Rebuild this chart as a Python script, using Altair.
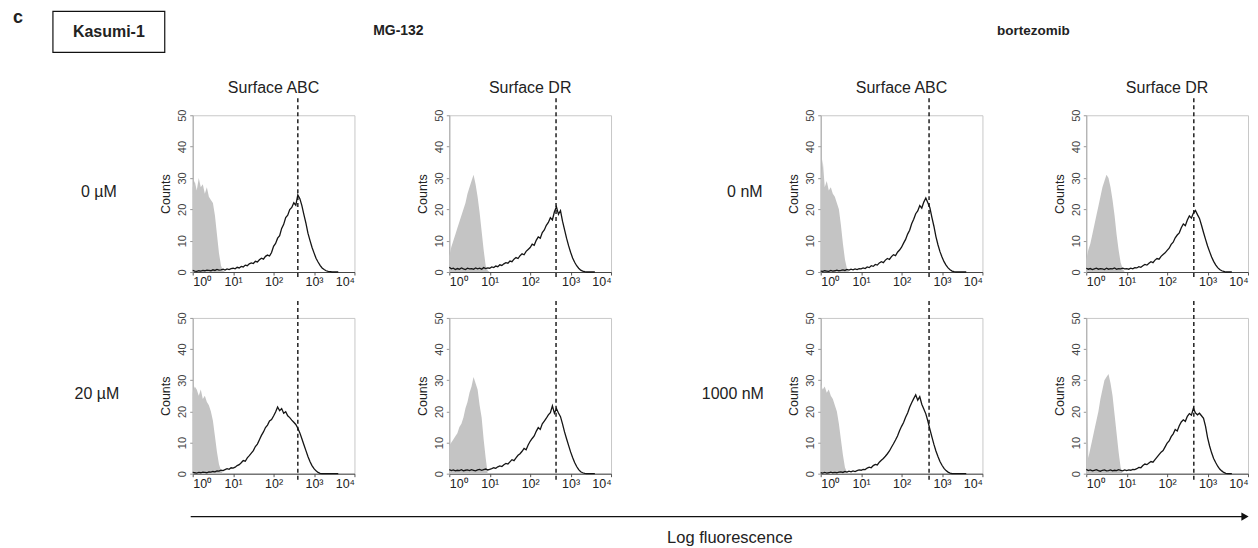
import altair as alt
import pandas as pd

# ---------------- data ----------------
# stained (black outline) histograms: bins of log10 fluorescence, 0.00 .. 3.60, step 0.05
BIN_STEP = 0.05
mg_abc_0 = [0.5, 0.3, 0.2, 0.4, 0.3, 0.5, 0.4, 0.6, 0.5, 0.4, 0.7, 0.5, 0.8, 0.6, 0.7, 0.9, 0.6, 1.0, 0.8, 1.1,
            1.2, 1.0, 1.5, 1.3, 1.8, 1.6, 2.2, 2.0, 2.6, 2.9, 2.7, 3.4, 3.2, 3.9, 4.4, 4.1, 5.0, 5.4, 5.1, 6.2,
            8.2, 9.1, 10.8, 11.6, 13.9, 15.2, 17.4, 18.1, 19.9, 20.6, 22.1, 21.3, 24.6, 23.4, 21.2, 18.3, 15.6, 12.4, 10.1, 7.9,
            6.1, 4.4, 3.2, 2.1, 1.3, 0.8, 0.4, 0.2, 0.1, 0, 0, 0, 0]
mg_dr_0 = [1.5, 1.0, 1.2, 0.8, 1.1, 0.9, 1.3, 1.0, 0.8, 1.2, 1.0, 1.1, 0.9, 1.3, 1.0, 1.2, 0.9, 1.4, 1.1, 1.3,
           1.2, 1.6, 1.4, 1.9, 1.7, 2.3, 2.1, 2.6, 3.0, 2.8, 3.5, 3.3, 4.1, 4.6, 4.3, 5.2, 5.8, 5.5, 6.6, 7.2,
           7.8, 8.9, 8.5, 10.1, 11.2, 10.8, 12.6, 13.4, 14.9, 15.8, 17.3, 16.6, 19.2, 20.8, 18.4, 19.6, 16.2, 13.5, 10.8, 8.4,
           6.3, 4.5, 3.1, 2.0, 1.2, 0.6, 0.3, 0.1, 0, 0, 0, 0, 0]
bz_abc_0 = [0.3, 0.2, 0.4, 0.3, 0.2, 0.5, 0.3, 0.4, 0.6, 0.4, 0.5, 0.7, 0.5, 0.8, 0.6, 0.9, 0.7, 1.0, 0.8, 1.1,
            1.0, 1.3, 1.1, 1.6, 1.4, 2.0, 1.8, 2.4, 2.2, 2.9, 3.3, 3.0, 3.8, 4.3, 4.0, 4.9, 5.5, 5.2, 6.3, 7.0,
            7.9, 9.2, 10.4, 12.1, 13.3, 15.4, 16.8, 18.6, 19.5, 21.2, 20.4, 22.3, 23.6, 22.1, 20.5, 17.4, 14.6, 11.3, 8.7, 6.5,
            4.8, 3.3, 2.2, 1.3, 0.7, 0.3, 0.1, 0, 0, 0, 0, 0, 0]
bz_dr_0 = [1.2, 0.9, 1.1, 0.8, 1.0, 1.2, 0.9, 1.1, 1.0, 0.8, 1.2, 0.9, 1.1, 1.0, 1.3, 0.9, 1.1, 1.0, 1.2, 1.0,
           1.1, 0.9, 1.2, 1.0, 1.4, 1.3, 1.7, 1.5, 2.0, 2.4, 2.2, 2.8, 3.3, 3.0, 3.8, 4.3, 4.1, 5.0, 5.6, 6.1,
           6.9, 7.6, 8.8, 9.5, 10.9, 11.8, 12.5, 14.1, 15.3, 14.8, 16.6, 17.9, 17.2, 18.8, 19.6, 18.3, 17.1, 14.9, 12.6, 10.4,
           8.3, 6.5, 4.8, 3.4, 2.3, 1.4, 0.8, 0.4, 0.2, 0, 0, 0, 0]
mg_abc_20 = [0.4, 0.3, 0.2, 0.4, 0.3, 0.5, 0.4, 0.3, 0.6, 0.5, 0.7, 0.6, 0.9, 0.8, 1.1, 1.0, 1.3, 1.6, 1.4, 1.9,
             1.8, 2.1, 2.6, 2.9, 3.5, 4.2, 4.0, 5.1, 5.8, 6.6, 7.4, 8.7, 9.5, 10.9, 12.3, 13.4, 14.8, 15.6, 16.9, 17.4,
             18.5, 19.8, 21.4, 20.2, 20.9, 19.4, 19.9, 18.6, 18.0, 17.2, 16.5, 15.8, 14.6, 13.1, 11.2, 9.3, 7.4, 5.5, 3.9, 2.6,
             1.6, 0.9, 0.4, 0.1, 0, 0, 0, 0, 0, 0, 0, 0, 0]
mg_dr_20 = [1.3, 1.0, 1.2, 0.9, 1.1, 1.0, 1.3, 0.9, 1.1, 1.2, 1.0, 1.3, 1.1, 0.9, 1.2, 1.4, 1.1, 1.3, 1.5, 1.2,
            1.4, 1.6, 1.9, 1.7, 2.2, 2.5, 2.3, 2.9, 3.3, 3.1, 3.8, 4.5, 4.2, 5.1, 5.9, 6.4, 7.2, 8.1, 7.7, 9.2,
            10.4, 11.3, 12.1, 13.6, 14.8, 14.2, 16.0, 16.9, 17.8, 18.9, 19.6, 21.8, 19.4, 20.9, 19.5, 18.3, 16.0, 13.4, 11.2, 9.1,
            7.0, 5.2, 3.6, 2.3, 1.3, 0.6, 0.3, 0.1, 0, 0, 0, 0, 0]
bz_abc_1000 = [0.3, 0.2, 0.4, 0.2, 0.3, 0.5, 0.3, 0.4, 0.3, 0.5, 0.6, 0.4, 0.7, 0.5, 0.8, 0.6, 0.9, 0.7, 1.0, 1.2,
               1.1, 1.4, 1.3, 1.8, 2.1, 1.9, 2.6, 3.0, 2.8, 3.7, 4.3, 4.9, 5.6, 6.4, 7.3, 8.5, 9.6, 10.8, 12.1, 13.8,
               15.2, 16.4, 18.1, 19.5, 21.3, 22.8, 24.1, 25.3, 23.6, 24.7, 22.3, 20.8, 19.2, 16.9, 14.3, 11.8, 9.4, 7.3, 5.5, 3.9,
               2.7, 1.7, 1.0, 0.5, 0.2, 0, 0, 0, 0, 0, 0, 0, 0]
bz_dr_1000 = [1.4, 1.0, 1.2, 0.9, 1.1, 1.3, 1.0, 0.8, 1.1, 1.2, 0.9, 1.0, 1.2, 0.9, 1.1, 1.0, 1.3, 1.1, 0.9, 1.2,
              1.0, 1.2, 1.1, 1.4, 1.3, 1.6, 2.0, 1.9, 2.6, 3.1, 2.9, 3.4, 3.9, 3.7, 4.5, 5.3, 6.1, 6.9, 7.4, 8.6,
              9.8, 10.5, 11.9, 12.8, 14.2, 13.7, 15.4, 16.6, 17.3, 16.8, 18.4, 19.3, 18.8, 21.0, 19.5, 18.9, 19.4, 18.6, 17.8, 15.2,
              11.6, 8.9, 6.7, 4.9, 3.6, 2.4, 1.5, 0.9, 0.4, 0.1, 0, 0, 0]

# isotype control (grey filled) histograms: bins 0.00 .. 1.00, step 0.05
iso_mg_abc_0 = [27, 29, 26, 30, 27, 28, 25, 27, 24, 23, 22, 18, 12, 6, 2, 0.5, 0, 0, 0, 0, 0]
iso_mg_dr_0 = [5, 8, 10, 12, 14, 16, 18, 20, 22, 25, 27, 29, 31, 28, 24, 19, 13, 7, 2, 0.5, 0]
iso_bz_abc_0 = [28, 36, 27, 29, 26, 27, 25, 24, 22, 20, 15, 9, 4, 1, 0, 0, 0, 0, 0, 0, 0]
iso_bz_dr_0 = [4, 7, 9, 12, 15, 18, 21, 24, 27, 29, 31, 30, 27, 23, 18, 12, 7, 3, 1, 0, 0]
iso_mg_abc_20 = [26, 28, 27, 25, 27, 24, 25, 23, 22, 20, 17, 12, 7, 3, 1, 0, 0, 0, 0, 0, 0]
iso_mg_dr_20 = [9, 10, 11, 12, 13, 15, 16, 18, 21, 23, 26, 28, 31, 29, 27, 22, 18, 11, 5, 0, 0]
iso_bz_abc_1000 = [29, 27, 28, 26, 27, 25, 24, 22, 20, 16, 11, 6, 2, 0.5, 0, 0, 0, 0, 0, 0, 0]
iso_bz_dr_1000 = [43, 5, 8, 11, 14, 17, 20, 24, 27, 30, 31, 32, 29, 25, 19, 13, 7, 2, 0, 0, 0]

# dashed reference line (log10 fluorescence) per panel
dashed = {"mg_abc_0": 2.60, "mg_dr_0": 2.64, "bz_abc_0": 2.68, "bz_dr_0": 2.66,
          "mg_abc_20": 2.60, "mg_dr_20": 2.64, "bz_abc_1000": 2.68, "bz_dr_1000": 2.66}

stained = {"mg_abc_0": mg_abc_0, "mg_dr_0": mg_dr_0, "bz_abc_0": bz_abc_0, "bz_dr_0": bz_dr_0,
           "mg_abc_20": mg_abc_20, "mg_dr_20": mg_dr_20, "bz_abc_1000": bz_abc_1000, "bz_dr_1000": bz_dr_1000}
isotype = {"mg_abc_0": iso_mg_abc_0, "mg_dr_0": iso_mg_dr_0, "bz_abc_0": iso_bz_abc_0, "bz_dr_0": iso_bz_dr_0,
           "mg_abc_20": iso_mg_abc_20, "mg_dr_20": iso_mg_dr_20, "bz_abc_1000": iso_bz_abc_1000,
           "bz_dr_1000": iso_bz_dr_1000}

x_ticks = [0, 1, 2, 3, 4]
y_ticks = [0, 10, 20, 30, 40, 50]

# ---------------- layout constants ----------------
FONT = "Liberation Sans"
TXT = "#222222"
PW, PH1, PH2 = 162, 157, 156
COLW = [184, PW, 95, PW, 210, PW, 104, PW]
ROWH = [106, PH1, 46, PH2, 67]
LBL = 16  # size of the row / column labels


def hist_df(values):
    return pd.DataFrame({"x": [round(i * BIN_STEP, 2) for i in range(len(values))], "count": values})


xaxis = alt.Axis(values=x_ticks, labelExpr="'10' + ['⁰','¹','²','³','⁴'][datum.value]",
                 title=None, grid=False, tickSize=3, tickColor="#555555", domainColor="#444444",
                 labelFontSize=12.5, labelColor=TXT, labelPadding=1, labelFont=FONT)
yaxis = alt.Axis(values=y_ticks, title="Counts", grid=False, tickSize=3, tickColor="#999999",
                 domainColor="#aaaaaa", labelAngle=270, labelAlign="center", labelBaseline="bottom",
                 labelFontSize=11, labelColor="#444444", labelPadding=2, labelFont=FONT,
                 titleFontSize=12.5, titleFontWeight="normal", titleColor=TXT, titlePadding=4, titleFont=FONT)


def panel(key, h):
    X = alt.X("x:Q", scale=alt.Scale(domain=[0, 4], nice=False, zero=False), axis=xaxis)
    Y = alt.Y("count:Q", scale=alt.Scale(domain=[0, 50], nice=False), axis=yaxis)
    iso = alt.Chart(hist_df(isotype[key])).mark_area(color="#c4c4c4", opacity=1).encode(x=X, y=Y)
    stain = alt.Chart(hist_df(stained[key])).mark_line(color="#151515", strokeWidth=1.3).encode(x=X, y=Y)
    rule = alt.Chart(pd.DataFrame({"x": [dashed[key]]})).mark_rule(
        color="#111111", strokeWidth=1.4, strokeDash=[4, 3]).encode(
        x=X, y=alt.value(-17), y2=alt.value(h + 8))
    return alt.layer(iso, stain, rule).properties(
        width=PW, height=h, view=alt.ViewBackground(stroke="#c8c8c8", strokeWidth=1))


def text_layer(t, x, y, size, weight):
    return alt.Chart(pd.DataFrame({"t": [t]})).mark_text(
        font=FONT, fontSize=size, fontWeight=weight, color=TXT, align="center", baseline="middle").encode(
        text="t:N", x=alt.value(x), y=alt.value(y))


def cell(w, h, texts=(), extra=()):
    """A cell without axes: optional decorations, then text annotations (text, x, y, size, weight)."""
    layers = list(extra) + [text_layer(*t) for t in texts]
    if not layers:
        layers.append(text_layer("", w / 2, h / 2, 10, "normal"))
    return alt.layer(*layers).properties(width=w, height=h, view=alt.ViewBackground(stroke="transparent"))


box = alt.Chart(pd.DataFrame({"t": [""]})).mark_rect(fill="white", stroke="#111111", strokeWidth=1.2).encode(
    x=alt.value(44), x2=alt.value(156), y=alt.value(2), y2=alt.value(43))
arrow_line = alt.Chart(pd.DataFrame({"t": [""]})).mark_rule(color="#111111", strokeWidth=1.2).encode(
    x=alt.value(182), x2=alt.value(1236), y=alt.value(43))
arrow_head = alt.Chart(pd.DataFrame({"t": [""]})).mark_point(
    shape="triangle-right", filled=True, color="#111111", size=70, opacity=1).encode(
    x=alt.value(1238), y=alt.value(43))

header = [
    cell(COLW[0], ROWH[0], texts=[("c", 9, 9, 18, "bold"), ("Kasumi-1", 100, 23, 16, "bold")], extra=[box]),
    cell(COLW[1], ROWH[0], texts=[("Surface ABC", 81, 79, LBL, "normal")]),
    cell(COLW[2], ROWH[0], texts=[("MG-132", 44, 22, 14, "bold")]),
    cell(COLW[3], ROWH[0], texts=[("Surface DR", 81, 79, LBL, "normal")]),
    cell(COLW[4], ROWH[0]),
    cell(COLW[5], ROWH[0], texts=[("Surface ABC", 81, 79, LBL, "normal")]),
    cell(COLW[6], ROWH[0], texts=[("bortezomib", 51, 22, 13.5, "bold")]),
    cell(COLW[7], ROWH[0], texts=[("Surface DR", 81, 79, LBL, "normal")]),
]
row1 = [
    cell(COLW[0], PH1, texts=[("0 µM", 90, 77, LBL, "normal")]),
    panel("mg_abc_0", PH1),
    cell(COLW[2], PH1),
    panel("mg_dr_0", PH1),
    cell(COLW[4], PH1, texts=[("0 nM", 134, 77, LBL, "normal")]),
    panel("bz_abc_0", PH1),
    cell(COLW[6], PH1),
    panel("bz_dr_0", PH1),
]
gap = [cell(w, ROWH[2]) for w in COLW]
row2 = [
    cell(COLW[0], PH2, texts=[("20 µM", 88, 76, LBL, "normal")]),
    panel("mg_abc_20", PH2),
    cell(COLW[2], PH2),
    panel("mg_dr_20", PH2),
    cell(COLW[4], PH2, texts=[("1000 nM", 122, 76, LBL, "normal")]),
    panel("bz_abc_1000", PH2),
    cell(COLW[6], PH2),
    panel("bz_dr_1000", PH2),
]
footer = [cell(COLW[0], ROWH[4], extra=[arrow_line, arrow_head])] + \
         [cell(COLW[i], ROWH[4]) for i in range(1, 4)] + \
         [cell(COLW[4], ROWH[4], texts=[("Log fluorescence", 119, 64, 16.5, "normal")])] + \
         [cell(COLW[i], ROWH[4]) for i in range(5, 8)]

chart = alt.concat(*(header + row1 + gap + row2 + footer), columns=8, spacing=0, bounds="flush").properties(
    padding=0).configure_view(stroke="transparent").configure(font=FONT)

chart.save("out.html", embed_options={"renderer": "svg", "actions": False})
